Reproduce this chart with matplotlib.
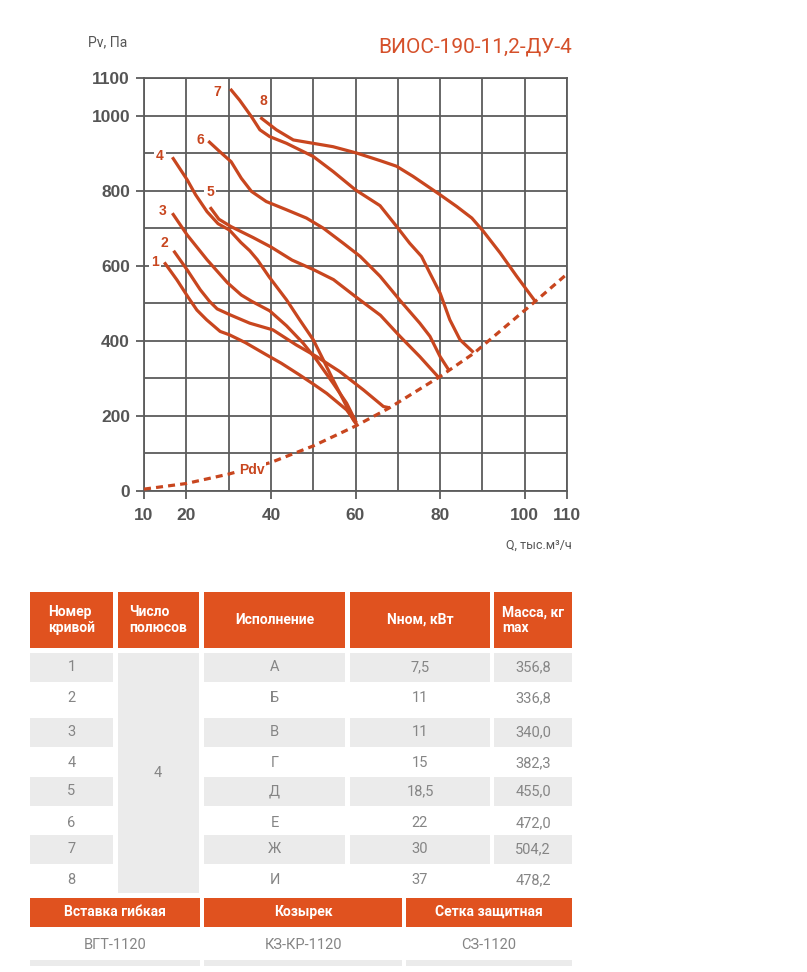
import numpy as np
import matplotlib
matplotlib.use('Agg')
import matplotlib.pyplot as plt
from matplotlib.patches import Rectangle

# --- chart data: Q (thousand m3/h) vs Pv (Pa) ---
q1 = [14.8, 17.8, 20.5, 22.5, 24.8, 28.0, 30.2, 34.0, 38.9, 42.5, 46.8, 50.0, 53.2, 57.9, 60.2]
p1 = [609, 562, 515, 482, 456, 425, 416, 395, 363, 340, 309, 285, 260, 216, 180]

q2 = [17.0, 20.2, 23.3, 25.5, 27.3, 30.4, 35.0, 40.5, 46.0, 50.8, 56.3, 61.9, 66.6, 67.9]
p2 = [640, 589, 536, 505, 485, 469, 447, 429, 389, 358, 318, 269, 225, 222]

q3 = [16.7, 20.2, 24.9, 29.7, 33.0, 35.5, 39.7, 43.7, 47.6, 50.8, 54.7, 57.9, 60.2]
p3 = [740, 682, 616, 555, 522, 505, 480, 440, 394, 349, 287, 234, 182]

q4 = [16.7, 20.2, 22.2, 24.9, 27.5, 30.2, 32.9, 35.0, 36.8, 39.6, 43.7, 46.8, 50.0, 52.4, 54.7, 57.1, 59.5, 60.2]
p4 = [889, 829, 789, 744, 712, 695, 662, 640, 616, 570, 509, 456, 403, 349, 296, 243, 189, 178]

q5 = [25.6, 27.7, 30.6, 35.8, 40.0, 45.0, 50.0, 54.8, 60.2, 65.9, 70.5, 75.2, 79.7]
p5 = [756, 724, 704, 675, 650, 615, 590, 563, 516, 468, 412, 358, 302]

q6 = [25.2, 27.9, 30.6, 33.0, 35.4, 38.9, 43.7, 48.4, 52.4, 57.1, 61.1, 65.8, 70.5, 75.2, 77.6, 80.0, 82.0]
p6 = [932, 904, 877, 833, 798, 771, 749, 727, 700, 660, 625, 572, 508, 447, 412, 358, 323]

q7 = [30.4, 32.6, 35.4, 37.4, 39.7, 43.7, 50.0, 54.7, 60.0, 65.8, 69.7, 72.8, 75.6, 77.6, 80.0, 82.3, 84.7, 87.9]
p7 = [1071, 1041, 997, 962, 944, 926, 891, 851, 802, 760, 705, 660, 625, 580, 527, 456, 403, 369]

q8 = [37.5, 41.3, 45.3, 50.0, 54.7, 60.3, 65.8, 69.7, 73.6, 80.0, 83.9, 87.5, 90.2, 94.2, 98.1, 102.5]
p8 = [995, 962, 935, 926, 917, 900, 880, 865, 838, 789, 758, 727, 692, 634, 572, 505]

q_pdv = [10, 20, 30, 40, 50, 60, 67.8, 80, 88, 102.5, 110]
p_pdv = [5, 20, 45, 76, 120, 173, 220, 305, 367, 505, 578]

curves = [(q1, p1), (q2, p2), (q3, p3), (q4, p4), (q5, p5), (q6, p6), (q7, p7), (q8, p8)]
curve_names = ['1', '2', '3', '4', '5', '6', '7', '8']
label_q = [12.6, 14.7, 14.5, 13.8, 25.6, 23.3, 27.3, 38.2]
label_p = [611, 661, 747, 893, 797, 936, 1064, 1040]

x_ticks = [10, 20, 40, 60, 80, 100, 110]
y_ticks = [0, 200, 400, 600, 800, 1000, 1100]

# --- table data ---
header = ['Номер\nкривой', 'Число\nполюсов', 'Исполнение', 'Nном, кВт', 'Масса, кг\nmax']
curve_no = ['1', '2', '3', '4', '5', '6', '7', '8']
poles = '4'
version = ['А', 'Б', 'В', 'Г', 'Д', 'Е', 'Ж', 'И']
power = ['7,5', '11', '11', '15', '18,5', '22', '30', '37']
mass = ['356,8', '336,8', '340,0', '382,3', '455,0', '472,0', '504,2', '478,2']
acc_header = ['Вставка гибкая', 'Козырек', 'Сетка защитная']
acc_values = ['ВГТ-1120', 'КЗ-КР-1120', 'СЗ-1120']

ORANGE = '#c8461f'
HEAD = '#e0521f'
GRID = '#5c5c5c'
GRAY = '#ebebeb'
TXT = '#858585'

W, H = 807, 972
fig = plt.figure(figsize=(W / 100, H / 100), dpi=100)

# overlay in pixel coordinates for table and free text
ov = fig.add_axes([0, 0, 1, 1])
ov.set_xlim(0, W)
ov.set_ylim(H, 0)
ov.axis('off')

ax = fig.add_axes([144 / W, 1 - 491 / H, 423 / W, 413 / H])
ax.set_xlim(10, 110)
ax.set_ylim(0, 1100)
ax.set_xticks(x_ticks)
ax.set_xticks(np.arange(10, 111, 10), minor=True)
ax.set_yticks(y_ticks)
ax.set_yticks(np.arange(0, 1101, 100), minor=True)
ax.grid(which='both', color=GRID, linewidth=1.3)
ax.set_axisbelow(True)
for s in ax.spines.values():
    s.set_color(GRID)
    s.set_linewidth(1.3)
ax.tick_params(which='major', length=6, width=1.3, color=GRID, pad=4)
ax.tick_params(which='minor', length=0)
ax.tick_params(axis='x', pad=6)
for lab in ax.get_xticklabels() + ax.get_yticklabels():
    lab.set_fontfamily('Liberation Sans')
    lab.set_fontweight('bold')
    lab.set_fontsize(12.5)
    lab.set_color('#555555')

for (q, p) in curves:
    ax.plot(q, p, color=ORANGE, linewidth=2.3, solid_capstyle='butt',
            solid_joinstyle='round', zorder=3)
ax.plot(q_pdv, p_pdv, color=ORANGE, linewidth=2.3, linestyle=(0, (2.2, 1.6)),
        zorder=3, clip_on=False)

for name, lq, lp in zip(curve_names, label_q, label_p):
    ax.text(lq, lp, name, color=ORANGE, fontsize=10, fontweight='bold',
            family='Liberation Sans', ha='center', va='center', zorder=4,
            bbox=dict(facecolor='white', edgecolor='none', pad=1.5))
ax.text(35.5, 56, 'Pdv', color=ORANGE, fontsize=10, fontweight='bold',
        family='Liberation Sans', ha='center', va='center', zorder=4,
        bbox=dict(facecolor='white', edgecolor='none', pad=1.0))

ov.text(88, 42, 'Pv, Па', fontsize=10, color='#555555', family='Roboto',
        ha='left', va='center')
ov.text(572, 47, 'ВИОС-190-11,2-ДУ-4', fontsize=15, color='#d5502a',
        family='Roboto', ha='right', va='center')
ov.text(572, 545, 'Q, тыс.м³/ч', fontsize=9, color='#555555', family='Roboto',
        ha='right', va='center')

# --- table ---
cols = [(30, 113), (118, 199), (204, 345), (350, 490), (494, 572)]
for (x0, x1), h in zip(cols, header):
    ov.add_patch(Rectangle((x0, 592), x1 - x0, 56, color=HEAD, lw=0))
    ov.text((x0 + x1) / 2, 620, h, color='white', fontsize=10, fontweight='bold',
            family='Roboto', ha='center', va='center', multialignment='left',
            linespacing=1.1)

row_c = [667, 698, 732, 763, 791, 823, 849, 880]
ov.add_patch(Rectangle((118, 653), 81, 240, color=GRAY, lw=0))
for i, yc in enumerate(row_c):
    if i % 2 == 0:
        for j in (0, 2, 3, 4):
            x0, x1 = cols[j]
            ov.add_patch(Rectangle((x0, yc - 14.5), x1 - x0, 29, color=GRAY, lw=0))
    vals = [curve_no[i], None, version[i], power[i], mass[i]]
    for j, v in enumerate(vals):
        if v is None:
            continue
        x0, x1 = cols[j]
        ov.text((x0 + x1) / 2, yc, v, color=TXT, fontsize=10.5,
                family='Roboto', ha='center', va='center')
ov.text(158, 773, poles, color=TXT, fontsize=10.5,
        family='Roboto', ha='center', va='center')

acc_cols = [(30, 200), (204, 402), (406, 572)]
for (x0, x1), h, v in zip(acc_cols, acc_header, acc_values):
    ov.add_patch(Rectangle((x0, 898), x1 - x0, 29, color=HEAD, lw=0))
    ov.text((x0 + x1) / 2, 912, h, color='white', fontsize=10, fontweight='bold',
            family='Roboto', ha='center', va='center')
    ov.text((x0 + x1) / 2, 945, v, color=TXT, fontsize=10.5,
            family='Roboto', ha='center', va='center')
    ov.add_patch(Rectangle((x0, 960), x1 - x0, 6, color=GRAY, lw=0))

fig.savefig('out.png', dpi=100)
